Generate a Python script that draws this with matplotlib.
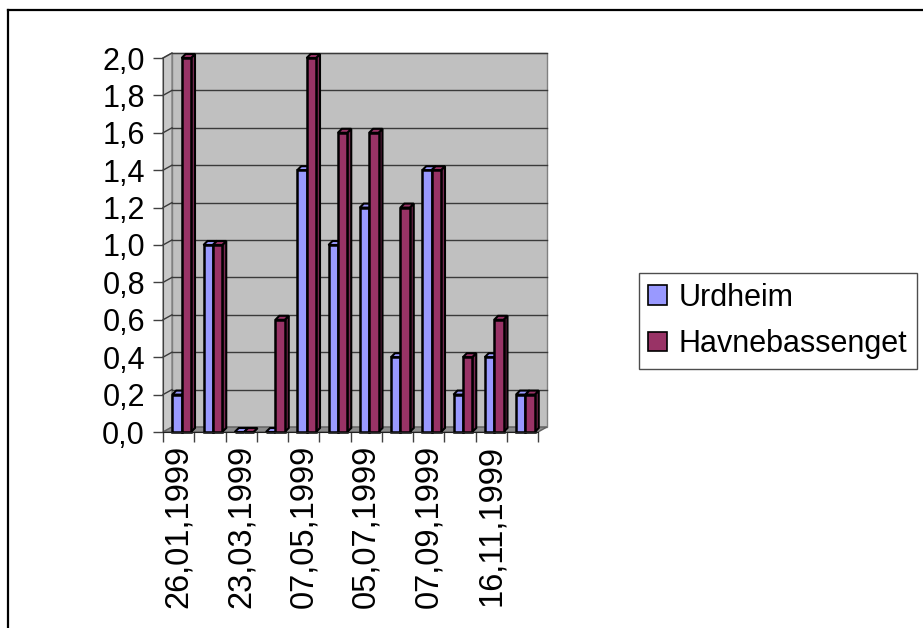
import matplotlib
matplotlib.use("Agg")
import matplotlib.pyplot as plt
from matplotlib.patches import Rectangle, Polygon, Patch
from matplotlib.transforms import ScaledTranslation
from matplotlib.lines import Line2D
import numpy as np

plt.rcParams['font.family'] = ['Liberation Sans', 'DejaVu Sans']

# ---------------- data ----------------
series_names = ["Urdheim", "Havnebassenget"]
urdheim = [0.2, 1.0, 0.0, 0.0, 1.4, 1.0, 1.2, 0.4, 1.4, 0.2, 0.4, 0.2]
havnebassenget = [2.0, 1.0, 0.0, 0.6, 2.0, 1.6, 1.6, 1.2, 1.4, 0.4, 0.6, 0.2]
shown_labels = ["26,01,1999", "23,03,1999", "07,05,1999",
                "05,07,1999", "07,09,1999", "16,11,1999"]
y_ticks = [0.0, 0.2, 0.4, 0.6, 0.8, 1.0, 1.2, 1.4, 1.6, 1.8, 2.0]
series_colors = ["#9999FF", "#993366"]
side_colors = ["#7A7ACC", "#7A2952"]

# ---------------- layout ----------------
W, H = 923, 628
fig = plt.figure(figsize=(W / 100, H / 100), dpi=100)


def fx(px):
    return px / W


def fy(py):
    return 1 - py / H


ax_l, ax_r, ax_t, ax_b = 163, 538, 58, 432
ax = fig.add_axes([fx(ax_l), fy(ax_b), (ax_r - ax_l) / W, (ax_b - ax_t) / H])
n = len(urdheim)
ax.set_xlim(-0.5, n - 0.5)
ax.set_ylim(0, 2.0)
ax.patch.set_visible(False)


def off(dx, dy):
    return ScaledTranslation(dx / 100, dy / 100, fig.dpi_scale_trans)


# 3D wall depth (pixels)
dpx, dpy = 9, 5
dxa = dpx / (ax_r - ax_l)
dya = dpy / (ax_b - ax_t)

wall_t = ax.transAxes + off(dpx, dpy)
ax.add_patch(Rectangle((0, 0), 1, 1, transform=wall_t, facecolor="#C0C0C0",
                       edgecolor="#808080", lw=1, zorder=0, clip_on=False))
# left side wall
ax.add_patch(Polygon([(0, 0), (0, 1), (dxa, 1 + dya), (dxa, dya)], closed=True,
                     transform=ax.transAxes, facecolor="#C8C8C8",
                     edgecolor="#808080", lw=1, zorder=0.5, clip_on=False))
# floor
ax.add_patch(Polygon([(0, 0), (1, 0), (1 + dxa, dya), (dxa, dya)], closed=True,
                     transform=ax.transAxes, facecolor="#8C8C8C",
                     edgecolor="#606060", lw=1, zorder=0.6, clip_on=False))

# gridlines on back wall and left wall
for v in y_ticks[1:]:
    ax.plot([-0.5, n - 0.5], [v, v], transform=ax.transData + off(dpx, dpy),
            color="#3A3A3A", lw=1, zorder=1, clip_on=False)
    ax.plot([0, dxa], [v / 2.0, v / 2.0 + dya], transform=ax.transAxes,
            color="#3A3A3A", lw=1, zorder=1, clip_on=False)

# ---------------- bars ----------------
bw = 0.3
ddx = 4 / ((ax_r - ax_l) / n)          # depth in data units (x)
ddy = 4 / ((ax_b - ax_t) / 2.0)        # depth in data units (y)
bar_t = ax.transData + off(3, 0)
for s, (vals, col, scol) in enumerate(zip([urdheim, havnebassenget],
                                          series_colors, side_colors)):
    xs = np.arange(n) + (s - 0.5) * bw
    z = 3 + s
    for x, v in zip(xs, vals):
        x0, x1 = x - bw / 2, x + bw / 2
        side = Polygon([(x1, 0), (x1, v), (x1 + ddx, v + ddy), (x1 + ddx, ddy)],
                       closed=True, transform=bar_t, facecolor=scol,
                       edgecolor="black", lw=1.5, zorder=z, clip_on=False)
        top = Polygon([(x0, v), (x1, v), (x1 + ddx, v + ddy), (x0 + ddx, v + ddy)],
                      closed=True, transform=bar_t, facecolor=col,
                      edgecolor="black", lw=1.5, zorder=z, clip_on=False)
        ax.add_patch(side)
        ax.add_patch(top)
    ax.bar(xs, vals, width=bw, color=col, edgecolor="black", lw=1.8,
           transform=bar_t, zorder=z, clip_on=False)

# ---------------- axes / ticks ----------------
for sp in ["top", "right"]:
    ax.spines[sp].set_visible(False)
ax.spines["left"].set_color("#404040")
ax.spines["bottom"].set_color("#202020")
ax.spines["left"].set_zorder(6)
ax.spines["bottom"].set_zorder(6)

ax.set_yticks(y_ticks)
ax.set_yticklabels([f"{v:.1f}".replace(".", ",") for v in y_ticks])
ax.tick_params(axis="y", length=7, width=1, color="#404040", pad=6, labelsize=22)

ax.set_xticks(np.arange(0, n, 2))
ax.set_xticklabels(shown_labels, rotation=90, fontsize=23.5)
ax.set_xticks(np.arange(-0.5, n, 1), minor=True)
ax.tick_params(axis="x", which="major", length=0, pad=9)
ax.tick_params(axis="x", which="minor", length=7, width=1, color="#404040")

# ---------------- legend ----------------
handles = [Patch(facecolor=c, edgecolor="black", lw=1.2) for c in series_colors]
leg = fig.legend(handles, series_names, loc="center left",
                 bbox_to_anchor=(fx(639), fy(321)), frameon=True, fancybox=False,
                 edgecolor="#202020", fontsize=22, handlelength=0.6,
                 handleheight=0.6, handletextpad=0.4, borderpad=0.3,
                 labelspacing=0.55, borderaxespad=0)
leg.get_frame().set_linewidth(1)

# ---------------- outer border ----------------
fig.add_artist(Line2D([fx(8), 1.0], [fy(9.5), fy(9.5)], color="black", lw=1.6))
fig.add_artist(Line2D([fx(8), fx(8)], [fy(9.5), 0.0], color="black", lw=1.6))

fig.savefig("out.png", dpi=100)
